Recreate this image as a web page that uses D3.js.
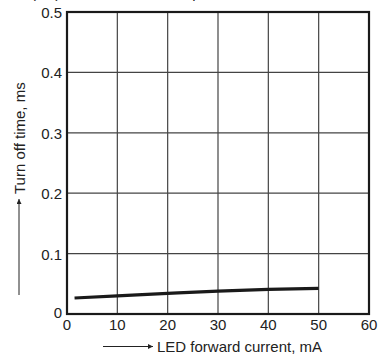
<!DOCTYPE html>
<html>
<head>
<meta charset="utf-8">
<script src="https://cdn.jsdelivr.net/npm/d3@7/dist/d3.min.js"></script>
<style>
  body { margin: 0; background: #fff; }
  svg { display: block; font-family: "Liberation Sans", Arial, sans-serif; }
</style>
</head>
<body>
<svg width="385" height="354"></svg>
<script>
const currentMA = [1.5, 10, 20, 30, 40, 50]
const turnOffMs = [0.0265, 0.030, 0.0342, 0.038, 0.0408, 0.0425]

const xTicks = [0, 10, 20, 30, 40, 50, 60]
const yTicks = [0, 0.1, 0.2, 0.3, 0.4, 0.5]

const svg = d3.select('svg')

const x = d3.scaleLinear().domain([0, 60]).range([67, 369])
const y = d3.scaleLinear().domain([0, 0.5]).range([314, 12])

// caption above the chart, cropped by the picture edge in the original
svg.append('text').attr('x', 31).attr('y', -2).attr('font-size', 15)
  .attr('fill', '#222').text('(RL), Ta = 25°C')
svg.append('text').attr('x', 168).attr('y', -2).attr('font-size', 15)
  .attr('fill', '#222').text('Output')

// grid
svg.append('g').selectAll('line').data(xTicks.slice(1, -1)).join('line')
  .attr('x1', d => x(d)).attr('x2', d => x(d))
  .attr('y1', y(0)).attr('y2', y(0.5))
  .attr('stroke', '#444').attr('stroke-width', 1.2)

svg.append('g').selectAll('line').data(yTicks.slice(1, -1)).join('line')
  .attr('x1', x(0)).attr('x2', x(60))
  .attr('y1', d => y(d)).attr('y2', d => y(d))
  .attr('stroke', '#444').attr('stroke-width', 1.2)

// frame
svg.append('rect')
  .attr('x', x(0)).attr('y', y(0.5))
  .attr('width', x(60) - x(0)).attr('height', y(0) - y(0.5))
  .attr('fill', 'none').attr('stroke', '#1a1a1a').attr('stroke-width', 2.2)

// tick labels
svg.append('g').selectAll('text').data(xTicks).join('text')
  .attr('x', d => x(d)).attr('y', 330)
  .attr('text-anchor', 'middle').attr('font-size', 15).attr('fill', '#222')
  .text(d => d)

svg.append('g').selectAll('text').data(yTicks).join('text')
  .attr('x', 62).attr('y', d => y(d) + (d === 0 ? 4 : 6))
  .attr('text-anchor', 'end').attr('font-size', 15).attr('fill', '#222')
  .text(d => d === 0 ? '0' : d3.format('.1f')(d))

// curve
const line = d3.line()
  .x((d, i) => x(currentMA[i]))
  .y(d => y(d))
  .curve(d3.curveMonotoneX)

svg.append('path').datum(turnOffMs)
  .attr('d', line)
  .attr('fill', 'none').attr('stroke', '#1a1a1a').attr('stroke-width', 3.2)

// axis titles with arrows
svg.append('defs').append('marker')
  .attr('id', 'head').attr('viewBox', '0 0 10 10')
  .attr('refX', 10).attr('refY', 5)
  .attr('markerWidth', 7).attr('markerHeight', 5)
  .attr('markerUnits', 'userSpaceOnUse')
  .attr('orient', 'auto')
  .append('path').attr('d', 'M0,0L10,5L0,10Z').attr('fill', '#222')

svg.append('line')
  .attr('x1', 103).attr('x2', 153).attr('y1', 346.5).attr('y2', 346.5)
  .attr('stroke', '#222').attr('stroke-width', 1).attr('marker-end', 'url(#head)')
svg.append('text').attr('x', 157).attr('y', 351.5)
  .attr('font-size', 15).attr('fill', '#222')
  .text('LED forward current, mA')

svg.append('line')
  .attr('x1', 19).attr('x2', 19).attr('y1', 295).attr('y2', 199)
  .attr('stroke', '#222').attr('stroke-width', 1).attr('marker-end', 'url(#head)')
svg.append('text')
  .attr('transform', 'translate(24.5,194) rotate(-90)')
  .attr('font-size', 15).attr('fill', '#222')
  .text('Turn off time, ms')
</script>
</body>
</html>
